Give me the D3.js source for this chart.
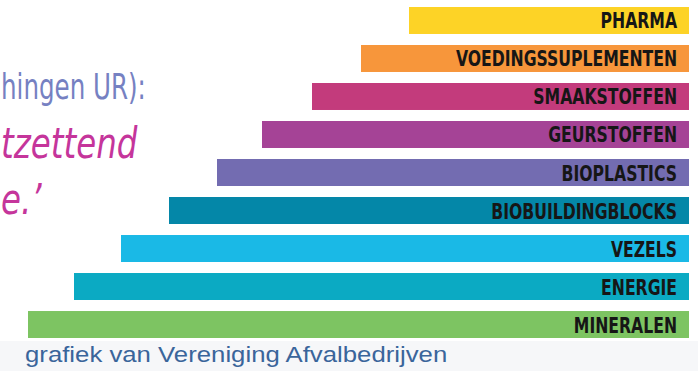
<!DOCTYPE html>
<html>
<head>
<meta charset="utf-8">
<script src="https://cdn.jsdelivr.net/npm/d3@7"></script>
<style>
html,body{margin:0;padding:0;background:#fff;}
svg{display:block;}
</style>
</head>
<body>
<div id="chart"></div>
<script>
// Data
const categories = ["PHARMA","VOEDINGSSUPLEMENTEN","SMAAKSTOFFEN","GEURSTOFFEN","BIOPLASTICS","BIOBUILDINGBLOCKS","VEZELS","ENERGIE","MINERALEN"];
const values = [28, 32.8, 37.7, 42.7, 47.2, 52, 56.8, 61.5, 66.1];
const colors = ["#FDD326","#F7963B","#C33B7C","#A54396","#736CB1","#0487A8","#1AB9E6","#0BAAC3","#7DC462"];
const sideText = ["hingen UR):", "tzettend", "e.\u2019"];
const caption = "grafiek van Vereniging Afvalbedrijven";

const W = 698, H = 371;
const right = 689;

const svg = d3.select("#chart").append("svg").attr("width", W).attr("height", H);

// caption strip background
svg.append("rect").attr("x",0).attr("y",341).attr("width",W).attr("height",H-341).attr("fill","#F6F7F9");

const y = d3.scaleBand().domain(categories).range([7, 338]).paddingInner(0.29).paddingOuter(0);
const x = d3.scaleLinear().domain([0, 70]).range([0, 700]);

const data = categories.map((c,i)=>({c, v: values[i], col: colors[i]}));

svg.selectAll("rect.bar").data(data).enter().append("rect")
  .attr("class","bar")
  .attr("x", d => right - x(d.v))
  .attr("y", d => y(d.c))
  .attr("width", d => x(d.v))
  .attr("height", y.bandwidth())
  .attr("fill", d => d.col);

const labelX = right - 12;
svg.selectAll("text.lab").data(data).enter().append("text")
  .attr("class","lab")
  .attr("transform", d => `translate(${labelX},${y(d.c) + y.bandwidth()/2 + 8}) scale(0.81,1)`)
  .attr("text-anchor","end")
  .attr("font-family","'DejaVu Sans Condensed','DejaVu Sans',sans-serif")
  .attr("font-weight","bold")
  .attr("font-size", 21.5)
  .attr("fill","#161616")
  .text(d => d.c);

// left partial quote text
svg.append("text")
  .attr("transform","translate(1,99) scale(0.78,1)")
  .attr("font-family","'DejaVu Sans Condensed','DejaVu Sans',sans-serif")
  .attr("font-weight","300")
  .attr("font-size", 35)
  .attr("fill","#7681C2")
  .text(sideText[0]);

svg.append("text")
  .attr("transform","translate(1,158) scale(0.84,1)")
  .attr("font-family","'DejaVu Sans Condensed','DejaVu Sans',sans-serif")
  .attr("font-style","italic")
  .attr("font-size", 43)
  .attr("fill","#C5359B")
  .text(sideText[1]);

svg.append("text")
  .attr("transform","translate(1,214) scale(0.84,1)")
  .attr("font-family","'DejaVu Sans Condensed','DejaVu Sans',sans-serif")
  .attr("font-style","italic")
  .attr("font-size", 43)
  .attr("fill","#C5359B")
  .text(sideText[2]);

svg.append("text")
  .attr("transform","translate(25,362) scale(1.12,1)")
  .attr("font-family","'Liberation Sans',Arial,sans-serif")
  .attr("font-size", 23)
  .attr("fill","#3A659B")
  .text(caption);
</script>
</body>
</html>
